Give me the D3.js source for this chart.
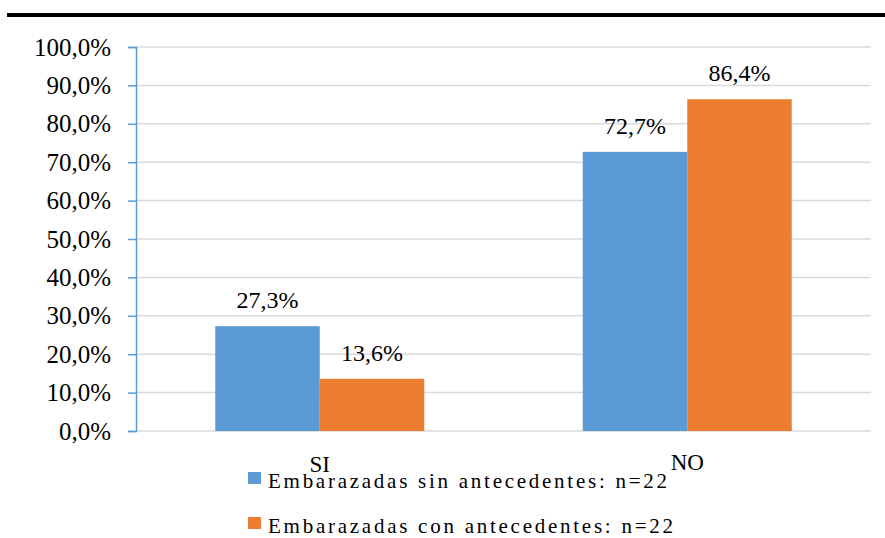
<!DOCTYPE html>
<html><head><meta charset="utf-8">
<script src="https://cdn.jsdelivr.net/npm/d3@7"></script>
<style>body{margin:0;background:#fff}svg{display:block}</style>
</head><body><svg id="c" width="885" height="538"></svg>
<script>
const categories = ["SI", "NO"];
const seriesNames = ["Embarazadas sin antecedentes: n=22", "Embarazadas con antecedentes: n=22"];
const sinAntecedentes = [27.3, 72.7];
const conAntecedentes = [13.6, 86.4];
const yTicks = [0,10,20,30,40,50,60,70,80,90,100];
const colors = ["#5b9bd5", "#ed7d31"];
const FONT = "Liberation Serif";

const svg = d3.select("#c");
const L = 136, R = 871, T = 47, B = 431;
const y = d3.scaleLinear().domain([0,100]).range([B, T]);
const x = d3.scaleBand().domain(categories).range([L, R]).padding(0);
const bw = x.bandwidth();
const gOff = (bw - 209) / 2;
const xs = d3.scaleBand().domain([0,1]).range([gOff, bw - gOff]).padding(0);
const fmt = v => v.toFixed(1).replace(".", ",") + "%";

// top rule
svg.append("rect").attr("x",7).attr("y",13).attr("width",878).attr("height",4).attr("fill","#000");

// gridlines
svg.append("g").selectAll("line").data(yTicks).join("line")
  .attr("x1", L).attr("x2", R).attr("y1", d=>y(d)).attr("y2", d=>y(d))
  .attr("stroke", "#d9d9d9").attr("stroke-width", 1.5);

// bars
const series = [sinAntecedentes, conAntecedentes];
series.forEach((vals, si) => {
  const g = svg.append("g");
  g.selectAll("rect").data(vals).join("rect")
    .attr("x", (d,i)=> x(categories[i]) + xs(si))
    .attr("width", xs.bandwidth())
    .attr("y", d=>y(d)).attr("height", d=>B - y(d))
    .attr("fill", colors[si]);
  g.selectAll("text").data(vals).join("text")
    .attr("x", (d,i)=> x(categories[i]) + xs(si) + xs.bandwidth()/2)
    .attr("y", d=> y(d) - 18)
    .attr("text-anchor","middle").style("font-size", "24px").style("font-family", FONT).attr("fill","#000")
    .text(fmt);
});

// y axis
const yAxis = d3.axisLeft(y).tickValues(yTicks).tickSize(8).tickPadding(17).tickFormat(d=>fmt(d));
const ya = svg.append("g").attr("transform", `translate(${L},0)`).call(yAxis);
ya.select(".domain").attr("stroke", "#5b9bd5").attr("stroke-width", 1.5);
ya.selectAll(".tick line").attr("stroke", "#5b9bd5").attr("stroke-width", 1.5);
ya.selectAll(".tick text").attr("fill","#000").style("font-family", FONT).style("font-size", "25px");

// x labels
svg.append("g").selectAll("text").data(categories).join("text")
  .attr("x", d => x(d) + bw/2).attr("y", (d,i)=> i===0 ? 472 : 470)
  .attr("text-anchor","middle").style("font-size", "23px").style("font-family", FONT).attr("fill","#000").text(d=>d);

// legend
const lg = svg.append("g");
const lw = [399, 405];
seriesNames.forEach((s, i) => {
  const yy = i===0 ? 470 : 515;
  lg.append("rect").attr("x", 248).attr("y", yy + 2).attr("width", 13).attr("height", 12).attr("fill", colors[i]);
  lg.append("text").attr("x", 268).attr("y", yy + 18).style("font-size", "21px").style("font-family", FONT).attr("fill","#000")
    .attr("textLength", lw[i]).attr("lengthAdjust","spacing").text(s);
});
</script></body></html>
